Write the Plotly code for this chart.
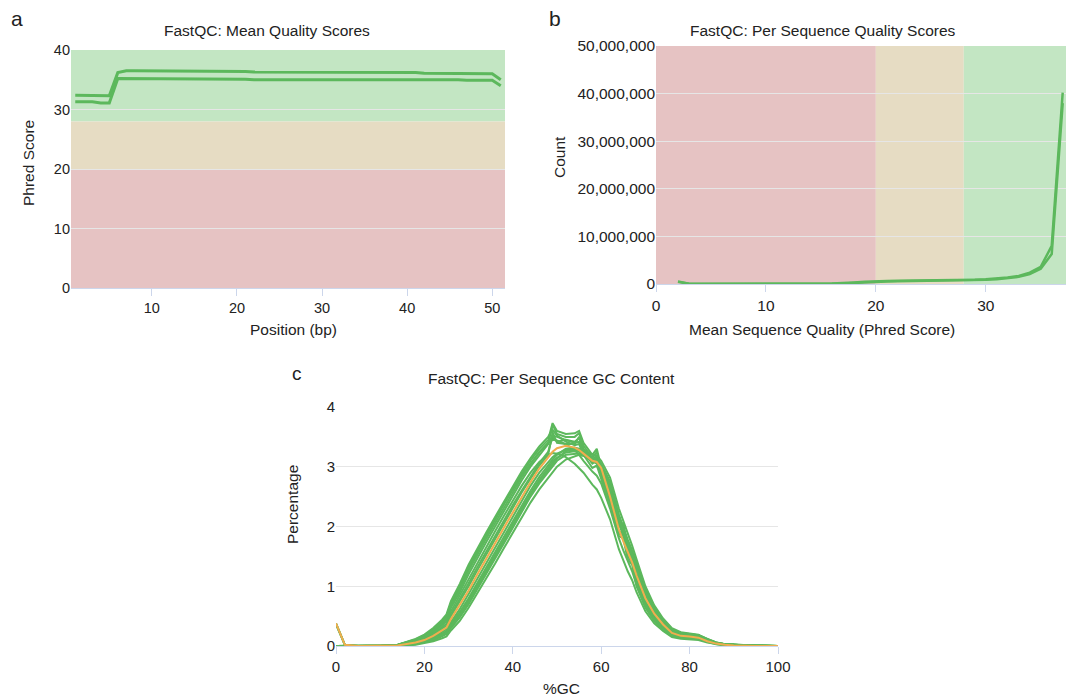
import plotly.graph_objects as go

# ---------------- Data ----------------
# Panel a: mean quality per position
POS = [1, 2, 3, 4, 5, 6, 7, 8, 9, 10, 11, 12, 13, 14, 15, 16, 17, 18, 19, 20,
       21, 22, 23, 24, 25, 26, 27, 28, 29, 30, 31, 32, 33, 34, 35, 36, 37, 38, 39, 40,
       41, 42, 43, 44, 45, 46, 47, 48, 49, 50, 51]
MQ_HIGH = [32.4, 32.4, 32.4, 32.3, 32.3, 36.2, 36.5, 36.5, 36.5, 36.5, 36.4, 36.4, 36.4, 36.4, 36.4, 36.4, 36.4, 36.4, 36.4, 36.4,
           36.4, 36.3, 36.3, 36.3, 36.3, 36.3, 36.3, 36.3, 36.3, 36.3, 36.3, 36.3, 36.3, 36.2, 36.2, 36.2, 36.2, 36.2, 36.2, 36.2,
           36.2, 36.1, 36.1, 36.1, 36.1, 36.1, 36.0, 36.0, 36.0, 36.0, 35.0]
MQ_LOW = [31.3, 31.3, 31.3, 31.1, 31.1, 35.2, 35.2, 35.2, 35.2, 35.1, 35.1, 35.2, 35.2, 35.1, 35.1, 35.1, 35.1, 35.1, 35.1, 35.1,
          35.1, 35.0, 35.0, 35.0, 35.0, 35.1, 35.1, 35.1, 35.1, 35.1, 35.1, 35.1, 35.1, 35.1, 35.1, 35.1, 35.1, 35.1, 35.1, 35.1,
          35.0, 35.0, 35.0, 35.0, 35.0, 35.0, 34.9, 34.9, 34.9, 34.9, 34.0]

# Panel b: per sequence quality scores
SQ_X = [2, 3, 4, 5, 6, 7, 8, 9, 10, 11, 12, 13, 14, 15, 16, 17, 18, 19, 20,
        21, 22, 23, 24, 25, 26, 27, 28, 29, 30, 31, 32, 33, 34, 35, 36, 37]
SQ_S1 = [550000, 60000, 40000, 30000, 30000, 30000, 30000, 30000, 30000, 30000, 30000, 30000, 40000, 50000, 80000, 150000, 300000, 450000, 600000,
         650000, 680000, 700000, 720000, 740000, 770000, 800000, 850000, 900000, 1000000, 1150000, 1350000, 1700000, 2400000, 3600000, 8000000, 40200000]
SQ_S2 = [450000, 40000, 20000, 20000, 20000, 20000, 20000, 20000, 20000, 20000, 20000, 20000, 30000, 40000, 60000, 100000, 220000, 360000, 500000,
         550000, 580000, 600000, 620000, 640000, 670000, 700000, 740000, 800000, 880000, 1000000, 1200000, 1500000, 2100000, 3200000, 6300000, 38000000]

# Panel c: per sequence GC content
GC_X = [0, 2, 5, 10, 14, 18, 20, 22, 24, 25, 26, 28, 30, 32, 34, 36, 38, 40, 42, 44,
        46, 48, 49, 50, 52, 54, 55, 56, 58, 59, 60, 62, 64, 65, 66, 67, 68, 70, 72, 74,
        76, 78, 80, 82, 84, 86, 88, 90, 95, 100]
GC_MEAN = [0.38, 0.02, 0.0, 0.0, 0.01, 0.06, 0.10, 0.17, 0.26, 0.31, 0.45, 0.68, 0.93, 1.20, 1.45, 1.72, 1.98, 2.24, 2.50, 2.74,
           2.97, 3.17, 3.25, 3.31, 3.35, 3.32, 3.28, 3.22, 3.10, 3.08, 2.98, 2.50, 1.95, 1.75, 1.57, 1.40, 1.18, 0.80, 0.54, 0.36,
           0.22, 0.17, 0.16, 0.14, 0.08, 0.04, 0.02, 0.01, 0.0, 0.0]
GC_S1 = [0.36, 0.02, 0.0, 0.0, 0.02, 0.11, 0.18, 0.28, 0.42, 0.50, 0.72, 1.00, 1.32, 1.60, 1.86, 2.12, 2.38, 2.64, 2.88, 3.10,
         3.30, 3.45, 3.73, 3.60, 3.55, 3.56, 3.60, 3.40, 3.20, 3.30, 3.00, 2.60, 2.06, 2.05, 1.62, 1.56, 1.10, 0.70, 0.45, 0.30,
         0.20, 0.18, 0.18, 0.18, 0.12, 0.06, 0.03, 0.03, 0.0, 0.0]
GC_S2 = [0.0, 0.0, 0.0, 0.0, 0.02, 0.09, 0.15, 0.24, 0.37, 0.44, 0.64, 0.90, 1.20, 1.48, 1.74, 2.00, 2.26, 2.52, 2.77, 3.00,
         3.20, 3.38, 3.70, 3.55, 3.50, 3.50, 3.56, 3.35, 3.15, 3.25, 2.95, 2.55, 2.02, 2.00, 1.60, 1.52, 1.10, 0.72, 0.47, 0.32,
         0.20, 0.17, 0.17, 0.16, 0.10, 0.05, 0.02, 0.02, 0.0, 0.0]
GC_S3 = [0.0, 0.0, 0.0, 0.0, 0.02, 0.10, 0.17, 0.27, 0.40, 0.48, 0.68, 0.98, 1.30, 1.58, 1.85, 2.12, 2.38, 2.62, 2.85, 3.05,
         3.25, 3.40, 3.45, 3.44, 3.38, 3.28, 3.20, 3.10, 2.92, 2.85, 2.72, 2.30, 1.80, 1.60, 1.42, 1.25, 1.02, 0.66, 0.43, 0.28,
         0.17, 0.14, 0.13, 0.12, 0.07, 0.03, 0.01, 0.01, 0.0, 0.0]
GC_S4 = [0.38, 0.02, 0.0, 0.0, 0.01, 0.07, 0.12, 0.20, 0.31, 0.37, 0.53, 0.78, 1.05, 1.32, 1.58, 1.85, 2.10, 2.36, 2.60, 2.84,
         3.06, 3.25, 3.50, 3.42, 3.45, 3.42, 3.48, 3.30, 3.12, 3.15, 2.90, 2.45, 1.92, 1.88, 1.55, 1.45, 1.12, 0.75, 0.50, 0.34,
         0.22, 0.18, 0.17, 0.15, 0.09, 0.04, 0.02, 0.01, 0.0, 0.0]
GC_S5 = [0.0, 0.0, 0.0, 0.0, 0.01, 0.05, 0.09, 0.15, 0.23, 0.28, 0.40, 0.62, 0.87, 1.13, 1.38, 1.65, 1.92, 2.18, 2.44, 2.68,
         2.90, 3.08, 3.16, 3.22, 3.28, 3.28, 3.26, 3.22, 3.12, 3.10, 3.02, 2.65, 2.10, 1.90, 1.70, 1.52, 1.30, 0.90, 0.60, 0.40,
         0.25, 0.20, 0.19, 0.17, 0.10, 0.05, 0.03, 0.02, 0.0, 0.0]
GC_S6 = [0.0, 0.0, 0.0, 0.0, 0.0, 0.03, 0.06, 0.10, 0.16, 0.20, 0.30, 0.48, 0.70, 0.95, 1.20, 1.46, 1.72, 1.98, 2.24, 2.50,
         2.72, 2.92, 3.02, 3.10, 3.20, 3.22, 3.22, 3.20, 3.12, 3.08, 3.00, 2.70, 2.20, 1.98, 1.78, 1.60, 1.38, 0.95, 0.65, 0.44,
         0.28, 0.22, 0.20, 0.18, 0.11, 0.05, 0.03, 0.02, 0.01, 0.0]
GC_S7 = [0.0, 0.0, 0.0, 0.0, 0.0, 0.02, 0.05, 0.08, 0.13, 0.16, 0.26, 0.42, 0.64, 0.88, 1.12, 1.38, 1.64, 1.90, 2.15, 2.40,
         2.62, 2.82, 2.92, 3.00, 3.12, 3.18, 3.20, 3.18, 3.10, 3.05, 2.92, 2.55, 2.05, 1.82, 1.62, 1.45, 1.22, 0.85, 0.58, 0.40,
         0.25, 0.20, 0.18, 0.16, 0.10, 0.05, 0.02, 0.01, 0.0, 0.0]
GC_S8 = [0.0, 0.0, 0.0, 0.0, 0.01, 0.08, 0.14, 0.22, 0.34, 0.41, 0.58, 0.85, 1.12, 1.40, 1.66, 1.92, 2.18, 2.44, 2.68, 2.90,
         3.08, 3.20, 3.23, 3.22, 3.16, 3.05, 2.98, 2.90, 2.70, 2.62, 2.48, 2.12, 1.62, 1.42, 1.25, 1.10, 0.90, 0.58, 0.38, 0.25,
         0.15, 0.12, 0.11, 0.10, 0.06, 0.03, 0.01, 0.01, 0.0, 0.0]
GC_S9 = [0.0, 0.0, 0.0, 0.0, 0.01, 0.06, 0.11, 0.18, 0.28, 0.34, 0.50, 0.74, 1.00, 1.27, 1.53, 1.80, 2.05, 2.32, 2.57, 2.80,
         3.02, 3.20, 3.58, 3.40, 3.38, 3.38, 3.50, 3.28, 3.10, 3.20, 2.92, 2.50, 2.00, 1.98, 1.60, 1.52, 1.15, 0.78, 0.52, 0.35,
         0.22, 0.18, 0.17, 0.16, 0.09, 0.04, 0.02, 0.02, 0.0, 0.0]
GC_S10 = [0.38, 0.02, 0.0, 0.0, 0.01, 0.05, 0.08, 0.13, 0.21, 0.25, 0.37, 0.57, 0.80, 1.06, 1.31, 1.58, 1.84, 2.10, 2.36, 2.60,
          2.83, 3.03, 3.12, 3.20, 3.30, 3.32, 3.30, 3.26, 3.15, 3.12, 3.05, 2.75, 2.18, 1.95, 1.75, 1.58, 1.35, 0.92, 0.62, 0.42,
          0.27, 0.21, 0.20, 0.18, 0.11, 0.06, 0.03, 0.02, 0.01, 0.0]
GC_S11 = [0.0, 0.0, 0.0, 0.0, 0.02, 0.10, 0.16, 0.26, 0.39, 0.47, 0.66, 0.94, 1.26, 1.54, 1.80, 2.06, 2.32, 2.58, 2.82, 3.04,
          3.24, 3.40, 3.52, 3.50, 3.45, 3.40, 3.42, 3.25, 3.05, 3.10, 2.85, 2.40, 1.88, 1.85, 1.50, 1.40, 1.05, 0.68, 0.44, 0.29,
          0.18, 0.15, 0.15, 0.14, 0.08, 0.04, 0.02, 0.01, 0.0, 0.0]
GC_S12 = [0.0, 0.0, 0.0, 0.0, 0.01, 0.04, 0.07, 0.12, 0.19, 0.23, 0.34, 0.53, 0.76, 1.01, 1.26, 1.52, 1.78, 2.04, 2.30, 2.55,
          2.78, 2.98, 3.08, 3.15, 3.24, 3.26, 3.25, 3.22, 3.12, 3.10, 3.00, 2.62, 2.12, 1.92, 1.72, 1.55, 1.32, 0.88, 0.60, 0.41,
          0.26, 0.21, 0.19, 0.17, 0.11, 0.05, 0.03, 0.02, 0.01, 0.0]
GC_S13 = [0.0, 0.0, 0.0, 0.0, 0.02, 0.12, 0.19, 0.30, 0.44, 0.53, 0.75, 1.04, 1.36, 1.64, 1.90, 2.16, 2.42, 2.68, 2.92, 3.14,
          3.34, 3.50, 3.62, 3.52, 3.42, 3.36, 3.38, 3.20, 2.98, 3.02, 2.80, 2.35, 1.84, 1.80, 1.45, 1.36, 1.00, 0.64, 0.42, 0.27,
          0.17, 0.14, 0.14, 0.13, 0.08, 0.04, 0.02, 0.01, 0.0, 0.0]
GC_S14 = [0.0, 0.0, 0.0, 0.0, 0.01, 0.04, 0.07, 0.11, 0.18, 0.22, 0.33, 0.52, 0.74, 0.98, 1.24, 1.50, 1.76, 2.02, 2.28, 2.52,
          2.75, 2.95, 3.05, 3.14, 3.26, 3.30, 3.30, 3.28, 3.20, 3.18, 3.10, 2.82, 2.30, 2.10, 1.88, 1.68, 1.45, 1.00, 0.68, 0.46,
          0.30, 0.23, 0.21, 0.19, 0.12, 0.06, 0.03, 0.02, 0.01, 0.0]
GC_SAMPLES = [GC_S1, GC_S2, GC_S3, GC_S4, GC_S5, GC_S6, GC_S7, GC_S8, GC_S9, GC_S10, GC_S11, GC_S12, GC_S13, GC_S14]

# ---------------- Styling ----------------
W, H = 1072, 697
FONT = "Liberation Sans, Arial, sans-serif"
GREEN = "#5cb85c"
ORANGE = "#f0ad4e"
BAND_G, BAND_Y, BAND_R = "#c3e6c3", "#e6dcc3", "#e6c3c3"
GRID = "#e6e6e6"
AXL = "#ccd6eb"
TXT = "#222222"


def px_x(p):
    return p / W


def px_y(p):
    return 1 - p / H


fig = go.Figure()

# Panel a
for ys in (MQ_HIGH, MQ_LOW):
    fig.add_trace(go.Scatter(x=POS, y=ys, mode="lines", line=dict(color=GREEN, width=3),
                             xaxis="x", yaxis="y", showlegend=False, hoverinfo="skip"))
# Panel b
for ys in (SQ_S1, SQ_S2):
    fig.add_trace(go.Scatter(x=SQ_X, y=ys, mode="lines", line=dict(color=GREEN, width=2.5),
                             xaxis="x2", yaxis="y2", showlegend=False, hoverinfo="skip"))
# Panel c
for ys in GC_SAMPLES:
    fig.add_trace(go.Scatter(x=GC_X, y=ys, mode="lines", line=dict(color=GREEN, width=2),
                             xaxis="x3", yaxis="y3", showlegend=False, hoverinfo="skip"))
fig.add_trace(go.Scatter(x=GC_X, y=GC_MEAN, mode="lines", line=dict(color=ORANGE, width=2),
                         xaxis="x3", yaxis="y3", showlegend=False, hoverinfo="skip"))


def tf(size):
    return dict(family=FONT, size=size, color=TXT)


common_x = dict(showgrid=False, zeroline=False, showline=True, linecolor=AXL, linewidth=1,
                ticks="outside", ticklen=7, tickcolor=AXL, automargin=False)
common_y = dict(showgrid=True, gridcolor=GRID, gridwidth=1, zeroline=False, showline=False, ticks="",
                automargin=False)

A_RANGE_X = [0.5, 51.5]
B_RANGE_X = [0, 37.3]

fig.update_layout(
    width=W, height=H, autosize=False,
    margin=dict(l=0, r=0, t=0, b=0, pad=0, autoexpand=False),
    paper_bgcolor="white", plot_bgcolor="rgba(0,0,0,0)",
    font=dict(family=FONT, color=TXT),
    xaxis=dict(domain=[px_x(71), px_x(505)], range=A_RANGE_X, dtick=10, tick0=0, anchor="y",
               tickfont=tf(14.5), **common_x),
    yaxis=dict(domain=[px_y(288), px_y(50)], range=[0, 40], dtick=10, anchor="x",
               tickfont=tf(14.5), **common_y),
    xaxis2=dict(domain=[px_x(656), px_x(1066)], range=B_RANGE_X, dtick=10, tick0=0, anchor="y2",
                tickfont=tf(15.5), **common_x),
    yaxis2=dict(domain=[px_y(284), px_y(46)], range=[0, 50000000], dtick=10000000, tickformat=",d",
                anchor="x2", tickfont=tf(15.5), **common_y),
    xaxis3=dict(domain=[px_x(336), px_x(778)], range=[0, 100], dtick=20, tick0=0, anchor="y3",
                tickfont=tf(15), **common_x),
    yaxis3=dict(domain=[px_y(646), px_y(407)], range=[0, 4], dtick=1, anchor="x3",
                tickfont=tf(15), **common_y),
)

shapes = [
    # panel a bands (horizontal)
    dict(type="rect", xref="x domain", yref="y", x0=0, x1=1, y0=28, y1=40, fillcolor=BAND_G, line_width=0, layer="below"),
    dict(type="rect", xref="x domain", yref="y", x0=0, x1=1, y0=20, y1=28, fillcolor=BAND_Y, line_width=0, layer="below"),
    dict(type="rect", xref="x domain", yref="y", x0=0, x1=1, y0=0, y1=20, fillcolor=BAND_R, line_width=0, layer="below"),
    # panel b bands (vertical)
    dict(type="rect", xref="x2", yref="y2 domain", x0=0, x1=20, y0=0, y1=1, fillcolor=BAND_R, line_width=0, layer="below"),
    dict(type="rect", xref="x2", yref="y2 domain", x0=20, x1=28, y0=0, y1=1, fillcolor=BAND_Y, line_width=0, layer="below"),
    dict(type="rect", xref="x2", yref="y2 domain", x0=28, x1=B_RANGE_X[1], y0=0, y1=1, fillcolor=BAND_G, line_width=0, layer="below"),
]
fig.update_layout(shapes=shapes)


def ann(text, x, y, size, rot=0):
    fig.add_annotation(text=text, x=px_x(x), y=px_y(y), xref="paper", yref="paper",
                       showarrow=False, xanchor="center", yanchor="middle", textangle=rot,
                       font=tf(size))


# panel letters
ann("a", 17, 18, 21)
ann("b", 555, 18, 21)
ann("c", 297, 373, 19)
# titles
ann("FastQC: Mean Quality Scores", 267, 31, 15.5)
ann("FastQC: Per Sequence Quality Scores", 823, 31, 15.5)
ann("FastQC: Per Sequence GC Content", 551, 378, 15.5)
# axis titles
ann("Phred Score", 28, 163, 15.5, -90)
ann("Position (bp)", 293, 330, 15.5)
ann("Count", 560, 157, 15.5, -90)
ann("Mean Sequence Quality (Phred Score)", 822, 330, 15.5)
ann("Percentage", 293, 505, 15.5, -90)
ann("%GC", 561, 688, 15.5)

fig.write_html("out.html", config={"displayModeBar": False},
               post_script="document.body.style.margin='0';document.body.style.overflow='hidden';")
